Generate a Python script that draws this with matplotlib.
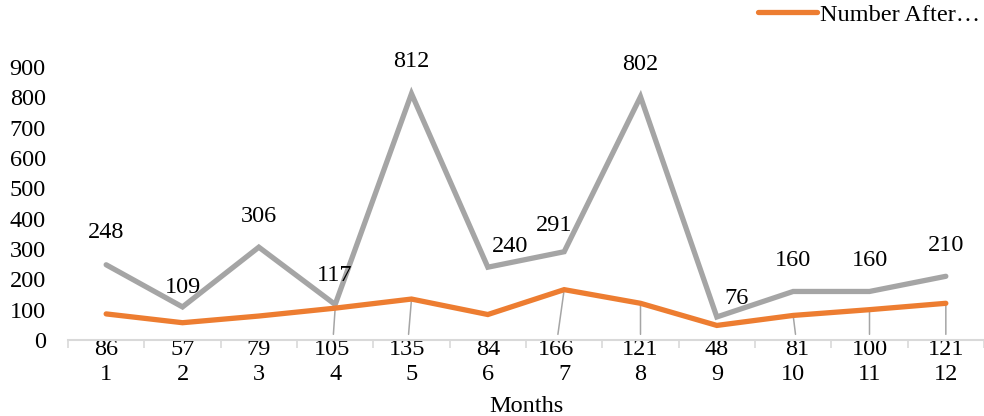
import matplotlib.pyplot as plt
import numpy as np
from matplotlib.lines import Line2D

plt.rcParams["font.family"] = ["Liberation Serif", "DejaVu Serif"]

months = [str(m) for m in range(1, 13)]
number_before = [248, 109, 306, 117, 812, 240, 291, 802, 76, 160, 160, 210]
number_after = [86, 57, 79, 105, 135, 84, 166, 121, 48, 81, 100, 121]
y_ticks = [0, 100, 200, 300, 400, 500, 600, 700, 800, 900]

GRAY = "#A5A5A5"
ORANGE = "#ED7D31"
AXIS = "#D9D9D9"
FS = 17.5

# label offsets (points) for the grey series labels
before_off = [(0, 23), (0, 14), (0, 22), (0, 21), (0, 23), (16, 15),
              (-7, 19), (0, 23), (14, 13), (0, 22), (0, 22), (0, 22)]
# orange labels sit under the axis; some get a leader line back to the point
after_dx = [0, 0, 0, -2, -3, 0, -6, 0, 0, 3, 0, 0]
after_leader = [False, False, False, True, True, False, True, True,
                False, True, True, True]

fig = plt.figure(figsize=(9.84, 4.16), dpi=100)
ax = fig.add_axes([68 / 984, 1 - 340 / 416, 916 / 984, 273 / 416])

x = np.arange(1, len(months) + 1)
ax.plot(x, number_before, color=GRAY, lw=3.8, solid_capstyle="round",
        solid_joinstyle="miter", zorder=3)
ax.plot(x, number_after, color=ORANGE, lw=3.8, solid_capstyle="round",
        solid_joinstyle="miter", zorder=4)

for xi, v, (dx, dy) in zip(x, number_before, before_off):
    ax.annotate(str(v), (xi, v), xytext=(dx, dy), textcoords="offset points",
                ha="center", va="center", fontsize=FS, zorder=5)

trans = ax.get_xaxis_transform()
for xi, v, dx, lead in zip(x, number_after, after_dx, after_leader):
    kw = {}
    if lead:
        kw["arrowprops"] = dict(arrowstyle="-", color=GRAY, lw=1.1,
                                shrinkA=1, shrinkB=0)
    ax.annotate(str(v), xy=(xi, v), xytext=(xi + dx / 55.0, -0.033),
                textcoords=trans, ha="center", va="center", fontsize=FS,
                annotation_clip=False, zorder=2, **kw)

ax.set_xlim(0.5, len(months) + 0.5)
ax.set_ylim(0, 900)
ax.set_yticks(y_ticks)
ax.tick_params(axis="y", length=0, pad=16, labelsize=FS)
ax.set_xticks(x)
ax.set_xticklabels(months)
ax.tick_params(axis="x", which="major", length=0, pad=17, labelsize=FS)
ax.set_xticks(np.arange(0.5, len(months) + 1), minor=True)
ax.tick_params(axis="x", which="minor", length=6, width=1.2, color=AXIS,
               direction="out")

for s in ["top", "right", "left"]:
    ax.spines[s].set_visible(False)
ax.spines["bottom"].set_color(AXIS)
ax.spines["bottom"].set_linewidth(1.5)

ax.set_xlabel("Months", fontsize=FS, labelpad=8)

handle = Line2D([], [], color=ORANGE, lw=3.8, solid_capstyle="round")
fig.legend([handle], ["Number After…"], loc="upper right",
           bbox_to_anchor=(1.0, 1.0), frameon=False, fontsize=FS,
           handlelength=2.4, handletextpad=0.15, borderaxespad=0.0,
           borderpad=0.15)

fig.savefig("out.png", dpi=100)
